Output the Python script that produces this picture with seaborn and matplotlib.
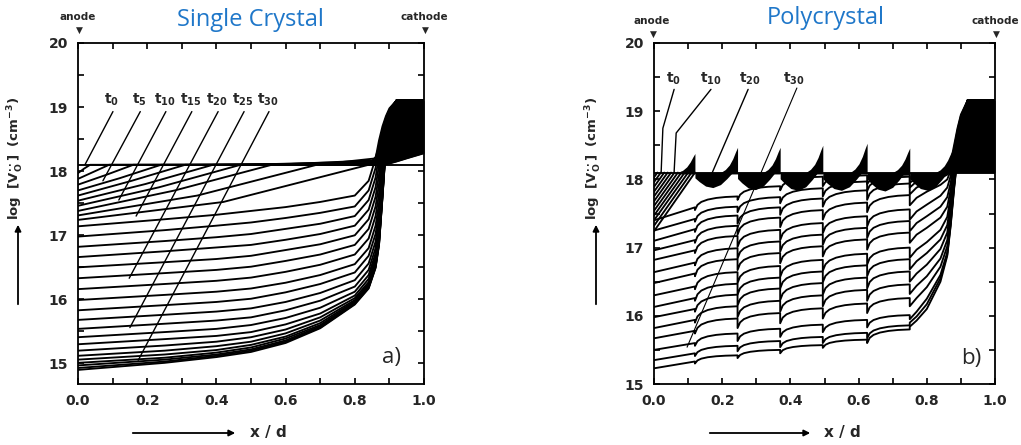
import numpy as np
import pandas as pd
import matplotlib
matplotlib.use("Agg")
import matplotlib.pyplot as plt
from matplotlib.patches import FancyArrowPatch
import seaborn as sns

sns.set_theme(style="ticks")
plt.rcParams["font.family"] = ["DejaVu Sans"]
plt.rcParams["mathtext.default"] = "regular"

W, H = 1021, 445
PLATEAU = 18.1                      # initial log10 vacancy level

x_ticks = [0.0, 0.2, 0.4, 0.6, 0.8, 1.0]
x_ticklabels = ["0.0", "0.2", "0.4", "0.6", "0.8", "1.0"]
y_ticks = [15, 16, 17, 18, 19, 20]
y_ticklabels = ["15", "16", "17", "18", "19", "20"]

# ---------------- (a) single crystal ----------------
# early profiles: anode value, where they meet the plateau, value half way there
early_anode_a = [17.97, 17.88, 17.79, 17.70, 17.62, 17.54, 17.46, 17.38, 17.31, 17.24]
early_meet_a = [0.035, 0.09, 0.16, 0.24, 0.31, 0.39, 0.47, 0.56, 0.69, 0.84]
early_half_a = [18.04, 17.99, 17.94, 17.89, 17.85, 17.80, 17.75, 17.70, 17.62, 17.52]

# later profiles across the bulk
late_x_a = [0.0, 0.25, 0.4, 0.5, 0.6, 0.7, 0.8, 0.84]
late_a = [
    [17.14, 17.25, 17.32, 17.38, 17.44, 17.52, 17.62, 17.85],
    [16.98, 17.08, 17.15, 17.20, 17.27, 17.35, 17.45, 17.70],
    [16.82, 16.91, 16.97, 17.02, 17.10, 17.18, 17.30, 17.55],
    [16.66, 16.75, 16.81, 16.85, 16.93, 17.02, 17.15, 17.40],
    [16.50, 16.58, 16.63, 16.68, 16.77, 16.86, 17.00, 17.25],
    [16.33, 16.41, 16.46, 16.51, 16.60, 16.70, 16.85, 17.10],
    [16.16, 16.24, 16.29, 16.34, 16.43, 16.54, 16.70, 16.95],
    [15.99, 16.07, 16.12, 16.17, 16.26, 16.38, 16.55, 16.80],
    [15.83, 15.91, 15.96, 16.01, 16.11, 16.24, 16.42, 16.68],
    [15.68, 15.76, 15.81, 15.86, 15.96, 16.10, 16.30, 16.56],
    [15.54, 15.62, 15.67, 15.72, 15.83, 15.98, 16.20, 16.46],
    [15.41, 15.49, 15.54, 15.60, 15.71, 15.87, 16.12, 16.38],
    [15.30, 15.38, 15.43, 15.49, 15.61, 15.78, 16.06, 16.32],
    [15.20, 15.28, 15.34, 15.41, 15.53, 15.72, 16.02, 16.27],
    [15.12, 15.20, 15.27, 15.34, 15.47, 15.67, 15.99, 16.24],
    [15.06, 15.14, 15.21, 15.29, 15.42, 15.63, 15.97, 16.22],
    [15.01, 15.09, 15.17, 15.25, 15.39, 15.60, 15.95, 16.20],
    [14.97, 15.06, 15.14, 15.22, 15.36, 15.58, 15.94, 16.19],
    [14.93, 15.03, 15.12, 15.20, 15.34, 15.56, 15.93, 16.18],
    [14.90, 15.01, 15.10, 15.18, 15.32, 15.55, 15.92, 16.17],
]

# cathode side of every profile (t1 ... t30)
cath_x_a = [0.86, 0.87, 0.88, 0.89, 0.90, 0.92, 0.95, 1.00]
cath_a = [
    [18.10, 18.10, 18.10, 18.11, 18.12, 18.15, 18.20, 18.28],
    [18.10, 18.10, 18.12, 18.16, 18.22, 18.32, 18.45, 18.60],
    [18.10, 18.12, 18.16, 18.22, 18.30, 18.45, 18.62, 18.80],
    [18.10, 18.14, 18.20, 18.28, 18.38, 18.58, 18.78, 18.95],
    [18.12, 18.17, 18.25, 18.35, 18.47, 18.70, 18.90, 19.05],
    [18.13, 18.20, 18.30, 18.43, 18.56, 18.82, 19.00, 19.10],
    [18.15, 18.24, 18.36, 18.51, 18.66, 18.92, 19.07, 19.10],
    [18.17, 18.28, 18.43, 18.60, 18.76, 19.00, 19.10, 19.10],
    [18.20, 18.33, 18.50, 18.68, 18.85, 19.06, 19.10, 19.10],
    [18.22, 18.38, 18.57, 18.76, 18.93, 19.10, 19.10, 19.10],
    [18.20, 18.48, 18.70, 18.86, 18.98, 19.10, 19.10, 19.10],
    [18.05, 18.38, 18.65, 18.83, 18.96, 19.10, 19.10, 19.10],
    [17.90, 18.25, 18.58, 18.80, 18.95, 19.10, 19.10, 19.10],
    [17.75, 18.10, 18.50, 18.77, 18.94, 19.10, 19.10, 19.10],
    [17.60, 17.95, 18.42, 18.73, 18.92, 19.10, 19.10, 19.10],
    [17.45, 17.80, 18.33, 18.70, 18.90, 19.10, 19.10, 19.10],
    [17.30, 17.65, 18.25, 18.66, 18.88, 19.10, 19.10, 19.10],
    [17.15, 17.50, 18.15, 18.62, 18.86, 19.10, 19.10, 19.10],
    [17.02, 17.38, 18.05, 18.58, 18.84, 19.10, 19.10, 19.10],
    [16.90, 17.27, 17.95, 18.55, 18.82, 19.10, 19.10, 19.10],
    [16.80, 17.17, 17.87, 18.52, 18.80, 19.10, 19.10, 19.10],
    [16.72, 17.09, 17.80, 18.49, 18.78, 19.10, 19.10, 19.10],
    [16.66, 17.03, 17.75, 18.47, 18.77, 19.10, 19.10, 19.10],
    [16.61, 16.98, 17.71, 18.45, 18.76, 19.10, 19.10, 19.10],
    [16.58, 16.94, 17.68, 18.43, 18.75, 19.10, 19.10, 19.10],
    [16.55, 16.91, 17.65, 18.42, 18.74, 19.10, 19.10, 19.10],
    [16.53, 16.89, 17.63, 18.41, 18.73, 19.10, 19.10, 19.10],
    [16.51, 16.87, 17.61, 18.40, 18.72, 19.10, 19.10, 19.10],
    [16.50, 16.86, 17.60, 18.39, 18.72, 19.10, 19.10, 19.10],
    [16.49, 16.85, 17.59, 18.38, 18.71, 19.10, 19.10, 19.10],
]

labels_a = [r"$\mathbf{t_{0}}$", r"$\mathbf{t_{5}}$", r"$\mathbf{t_{10}}$", r"$\mathbf{t_{15}}$",
            r"$\mathbf{t_{20}}$", r"$\mathbf{t_{25}}$", r"$\mathbf{t_{30}}$"]
label_x_a = [0.098, 0.177, 0.251, 0.326, 0.402, 0.477, 0.549]
lead_end_x_a = [0.020, 0.072, 0.118, 0.168, 0.148, 0.150, 0.174]
lead_end_y_a = [18.10, 17.85, 17.55, 17.30, 16.33, 15.56, 15.05]

# ---------------- (b) polycrystal ----------------
grain_edges_b = [0.0, 0.12, 0.245, 0.37, 0.495, 0.625, 0.75]
# shape of the profile inside one grain (fraction of width, fraction of rise)
arc_pos = [0.0, 0.06, 0.15, 0.3, 0.5, 0.72, 1.0]
arc_rise = [0.0, 0.38, 0.6, 0.77, 0.89, 0.96, 1.0]

starts_b = [
    [17.40, 17.55, 17.70, 17.84, 17.90, 17.93, 17.95],
    [17.25, 17.38, 17.52, 17.65, 17.75, 17.83, 17.88],
    [17.10, 17.23, 17.35, 17.48, 17.60, 17.70, 17.78],
    [16.96, 17.07, 17.19, 17.30, 17.41, 17.52, 17.62],
    [16.82, 16.92, 17.01, 17.11, 17.21, 17.31, 17.41],
    [16.64, 16.74, 16.84, 16.94, 17.04, 17.14, 17.24],
    [16.48, 16.58, 16.67, 16.77, 16.87, 16.97, 17.07],
    [16.30, 16.39, 16.48, 16.57, 16.66, 16.75, 16.85],
    [16.13, 16.22, 16.31, 16.40, 16.49, 16.58, 16.68],
    [15.98, 16.06, 16.15, 16.23, 16.31, 16.40, 16.50],
    [15.82, 15.90, 15.98, 16.06, 16.14, 16.22, 16.32],
    [15.67, 15.74, 15.82, 15.89, 15.96, 16.04, 16.14],
    [15.50, 15.56, 15.63, 15.69, 15.76, 15.83, 15.95],
    [15.35, 15.41, 15.48, 15.54, 15.60, 15.67, 15.90],
    [15.23, 15.30, 15.38, 15.45, 15.53, 15.60, 15.84],
]
ends_b = [
    [17.59, 17.75, 17.90, 18.04, 18.06, 18.07],
    [17.42, 17.60, 17.74, 17.87, 17.97, 18.04],
    [17.27, 17.47, 17.59, 17.72, 17.84, 17.94],
    [17.11, 17.32, 17.44, 17.55, 17.66, 17.77],
    [16.96, 17.17, 17.26, 17.36, 17.46, 17.56],
    [16.78, 16.99, 17.09, 17.19, 17.29, 17.39],
    [16.62, 16.83, 16.92, 17.02, 17.12, 17.22],
    [16.43, 16.64, 16.73, 16.82, 16.91, 17.00],
    [16.26, 16.47, 16.56, 16.65, 16.74, 16.83],
    [16.10, 16.31, 16.40, 16.48, 16.56, 16.65],
    [15.94, 16.14, 16.22, 16.30, 16.38, 16.46],
    [15.78, 15.96, 16.04, 16.11, 16.18, 16.26],
    [15.60, 15.74, 15.81, 15.87, 15.94, 16.01],
    [15.45, 15.56, 15.63, 15.69, 15.75, 15.86],
    [15.33, 15.42, 15.50, 15.57, 15.65, 15.80],
]
knee_x_b = [0.77, 0.80, 0.84, 0.86, 0.87, 0.88, 0.89, 0.90, 0.92, 1.00]
knee_b = [
    [18.02, 18.05, 18.08, 18.12, 18.25, 18.50, 18.75, 18.95, 19.16, 19.16],
    [17.97, 18.02, 18.06, 18.10, 18.22, 18.45, 18.72, 18.93, 19.16, 19.16],
    [17.88, 17.95, 18.02, 18.07, 18.18, 18.40, 18.68, 18.90, 19.16, 19.16],
    [17.73, 17.82, 17.92, 18.00, 18.13, 18.35, 18.64, 18.88, 19.16, 19.16],
    [17.53, 17.63, 17.76, 17.88, 18.05, 18.30, 18.60, 18.85, 19.16, 19.16],
    [17.36, 17.46, 17.60, 17.74, 17.95, 18.24, 18.56, 18.83, 19.16, 19.16],
    [17.19, 17.29, 17.44, 17.60, 17.85, 18.18, 18.52, 18.80, 19.16, 19.16],
    [16.97, 17.08, 17.26, 17.45, 17.75, 18.12, 18.48, 18.78, 19.16, 19.16],
    [16.80, 16.92, 17.12, 17.33, 17.66, 18.07, 18.45, 18.76, 19.16, 19.16],
    [16.62, 16.75, 16.98, 17.22, 17.58, 18.02, 18.42, 18.74, 19.16, 19.16],
    [16.44, 16.58, 16.84, 17.11, 17.50, 17.97, 18.39, 18.72, 19.16, 19.16],
    [16.26, 16.42, 16.72, 17.02, 17.43, 17.93, 18.37, 18.71, 19.16, 19.16],
    [16.06, 16.25, 16.60, 16.93, 17.37, 17.90, 18.35, 18.70, 19.16, 19.16],
    [15.99, 16.17, 16.55, 16.90, 17.34, 17.88, 18.34, 18.69, 19.16, 19.16],
    [15.93, 16.10, 16.50, 16.88, 17.32, 17.86, 18.33, 18.68, 19.16, 19.16],
]
# early profiles in the first grain next to the anode
early_anode_b = [18.03, 17.96, 17.89, 17.82, 17.75, 17.68, 17.61, 17.54, 17.47, 17.40, 17.32, 17.24]
early_meet_b = [0.010, 0.020, 0.030, 0.040, 0.050, 0.060, 0.070, 0.080, 0.090, 0.100, 0.110, 0.120]
# dark scallop under the plateau in each grain
cres_left_b = [0.12, 0.245, 0.37, 0.495, 0.625, 0.75]
cres_min_b = [17.88, 17.85, 17.84, 17.84, 17.83, 17.84]
cres_pos = [0.0, 0.1, 0.25, 0.42, 0.6, 0.75, 0.88]
cres_frac = [0.35, 0.6, 0.9, 1.0, 0.8, 0.4, 0.0]
# cusps on the grain boundaries
spike_x_b = [0.12, 0.245, 0.37, 0.495, 0.625, 0.75, 0.875]
spike_peak_b = [18.38, 18.47, 18.47, 18.50, 18.53, 18.46, 18.43]
spike_off = [-0.05, -0.036, -0.024, -0.014, -0.006, 0.0]
spike_frac = [0.0, 0.12, 0.3, 0.55, 0.82, 1.0]

labels_b = [r"$\mathbf{t_{0}}$", r"$\mathbf{t_{10}}$", r"$\mathbf{t_{20}}$", r"$\mathbf{t_{30}}$"]
label_x_b = [0.058, 0.168, 0.28, 0.41]
lead_b_x = [[0.059, 0.026, 0.021], [0.167, 0.065, 0.059], [0.276, 0.170], [0.419, 0.097]]
lead_b_y = [[19.32, 18.75, 18.11], [19.32, 18.68, 18.11], [19.32, 18.09], [19.34, 15.54]]
lead_b_lw = [1.0, 1.0, 1.0, 0.8]


def px2fig(px, py):
    return px / W, 1 - py / H


def profiles_a():
    recs = []
    def add(cid, xs, ys):
        for x, y in zip(xs, ys):
            recs.append((cid, x, y))
    add(0, [0.0, 1.0], [PLATEAU, PLATEAU])
    for k in range(len(early_anode_a)):
        xs = [0.0, early_meet_a[k] / 2, early_meet_a[k]] + cath_x_a
        ys = [early_anode_a[k], early_half_a[k], PLATEAU] + cath_a[k]
        add(k + 1, xs, ys)
    n0 = len(early_anode_a)
    for k in range(len(late_a)):
        add(n0 + k + 1, late_x_a + cath_x_a, late_a[k] + cath_a[n0 + k])
    return pd.DataFrame(recs, columns=["curve", "x", "y"])


def profiles_b():
    recs = []
    def add(cid, xs, ys):
        for x, y in zip(xs, ys):
            recs.append((cid, x, y))
    add(0, [0.0, 1.0], [PLATEAU, PLATEAU])
    cid = 1
    for k in range(len(early_anode_b)):
        add(cid, [0.0, early_meet_b[k]], [early_anode_b[k], PLATEAU])
        cid += 1
    for j in range(len(starts_b)):
        xs, ys = [], []
        for g in range(len(ends_b[j])):
            x0, x1 = grain_edges_b[g], grain_edges_b[g + 1]
            s, e = starts_b[j][g], ends_b[j][g]
            if g == 0:
                xs += [x0, x1]
                ys += [s, e]
            else:
                xs += [x0 + p * (x1 - x0) for p in arc_pos]
                ys += [s + r * (e - s) for r in arc_rise]
        xs += [grain_edges_b[-1]] + knee_x_b
        ys += [starts_b[j][-1]] + knee_b[j]
        add(cid, xs, ys)
        cid += 1
    return pd.DataFrame(recs, columns=["curve", "x", "y"])


fig = plt.figure(figsize=(W / 100, H / 100), dpi=100)
ax_a = fig.add_axes([78 / W, 61 / H, 346 / W, 341 / H])
ax_b = fig.add_axes([654 / W, 61 / H, 341 / W, 341 / H])

LW = 1.35
sns.lineplot(data=profiles_a(), x="x", y="y", units="curve", estimator=None, sort=False,
             color="black", lw=LW, ax=ax_a, legend=False)
cath_arr = np.array(cath_a)
ax_a.fill_between(cath_x_a, cath_arr[0], cath_arr.max(axis=0), color="black", lw=0)

sns.lineplot(data=profiles_b(), x="x", y="y", units="curve", estimator=None, sort=False,
             color="black", lw=LW, ax=ax_b, legend=False)
# scallops under the plateau
for i, (left, low) in enumerate(zip(cres_left_b, cres_min_b)):
    width = spike_x_b[i + 1] - left
    xs = [left + p * width for p in cres_pos]
    ax_b.fill_between(xs, [PLATEAU - f * (PLATEAU - low) for f in cres_frac], PLATEAU,
                      color="black", lw=0)
# cusps at the grain boundaries
for xb, peak in zip(spike_x_b, spike_peak_b):
    xs = [xb + o for o in spike_off]
    ax_b.fill_between(xs, PLATEAU - 0.02, [PLATEAU + f * (peak - PLATEAU) for f in spike_frac],
                      color="black", lw=0)
knee_arr = np.array(knee_b)
kx = np.array(knee_x_b)
sel = kx >= 0.86
ax_b.fill_between(kx[sel], PLATEAU, knee_arr.max(axis=0)[sel], color="black", lw=0)

# time labels with leader lines
for lab, lx, ex, ey in zip(labels_a, label_x_a, lead_end_x_a, lead_end_y_a):
    ax_a.text(lx, 19.12, lab, ha="center", va="center", fontsize=10)
    ax_a.plot([lx + 0.003, ex], [18.93, ey], color="black", lw=1.0)
for lab, lx, xs, ys, lw in zip(labels_b, label_x_b, lead_b_x, lead_b_y, lead_b_lw):
    ax_b.text(lx, 19.48, lab, ha="center", va="center", fontsize=10)
    ax_b.plot(xs, ys, color="black", lw=lw)

for ax, ylo in ((ax_a, 14.68), (ax_b, 15.0)):
    ax.set_xlim(0, 1)
    ax.set_ylim(ylo, 20)
    ax.set_xticks(x_ticks)
    ax.set_xticklabels(x_ticklabels)
    ax.set_xticks(np.arange(0.1, 1.0, 0.2), minor=True)
    ax.set_yticks(y_ticks)
    ax.set_yticklabels(y_ticklabels)
    ax.set_yticks(np.arange(15.5, 20.0, 1.0), minor=True)
    ax.tick_params(which="both", direction="in", top=True, right=True,
                   length=4, width=1.2, color="black")
    ax.tick_params(axis="both", labelsize=10, pad=7)
    for lab in ax.get_xticklabels() + ax.get_yticklabels():
        lab.set_fontweight("bold")
    for sp in ax.spines.values():
        sp.set_linewidth(1.3)
        sp.set_color("black")
    ax.set_xlabel("")
    ax.set_ylabel("")
    ax.set_facecolor("white")

ax_a.text(0.907, 15.09, "a)", ha="center", va="center", fontsize=16, family="Open Sans")
ax_b.text(0.93, 15.38, "b)", ha="center", va="center", fontsize=16, family="Open Sans")

title_kw = dict(ha="center", va="center", fontsize=17, color="#1f77c9", family="Open Sans")
fig.text(*px2fig(250, 20), "Single Crystal", **title_kw)
fig.text(*px2fig(826, 18), "Polycrystal", **title_kw)

small_kw = dict(ha="center", va="center", fontsize=7.5, fontweight="bold")
for px, py, txt in ((78, 17, "anode"), (424, 17, "cathode"), (652, 21, "anode"), (995, 21, "cathode")):
    fig.text(*px2fig(px, py), txt, **small_kw)
    fig.text(*px2fig(px + 1, py + 13), "\u25BC", ha="center", va="center", fontsize=6.5)

ylab = r"$\mathbf{log\ \ [V_O^{\cdot\cdot}]\ \ (cm^{-3})}$"
for px in (16, 594):
    fig.text(*px2fig(px, 158), ylab, rotation=90, ha="center", va="center", fontsize=9.5)
    fig.add_artist(FancyArrowPatch(px2fig(px + 2, 307), px2fig(px + 2, 222),
                                   transform=fig.transFigure, arrowstyle="-|>",
                                   mutation_scale=9, lw=1.3, color="black"))
for x0, x1, tx in ((130, 238, 268), (707, 813, 842)):
    fig.add_artist(FancyArrowPatch(px2fig(x0, 433), px2fig(x1, 433),
                                   transform=fig.transFigure, arrowstyle="-|>",
                                   mutation_scale=9, lw=1.3, color="black"))
    fig.text(*px2fig(tx, 433), "x / d", ha="center", va="center", fontsize=11, fontweight="bold")

fig.savefig("out.png", dpi=100, facecolor="white")
